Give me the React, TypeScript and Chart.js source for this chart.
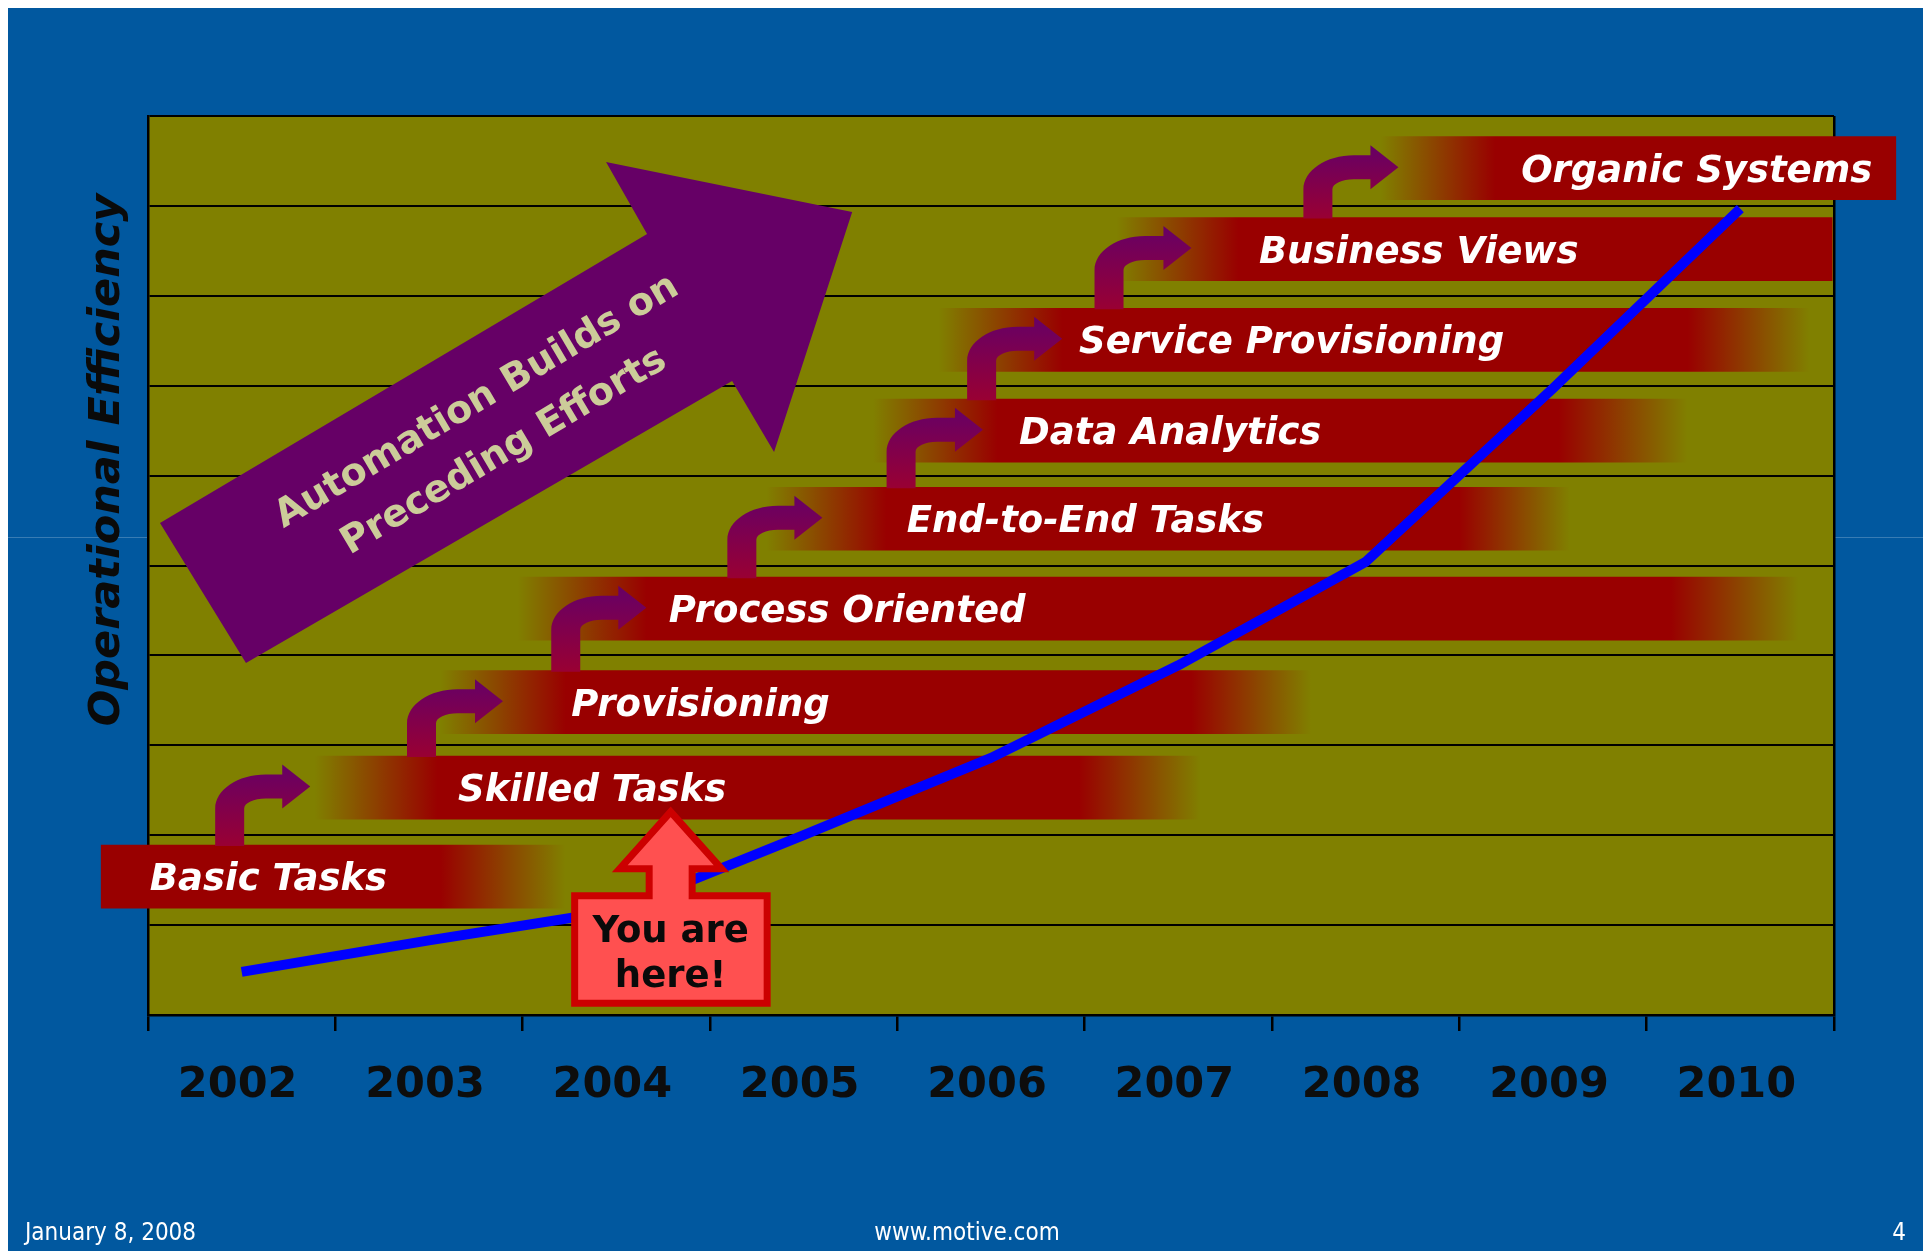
import React, { useEffect, useRef } from "react";
import { Chart, registerables } from "chart.js";

Chart.register(...registerables);

// ---------------- data ----------------
const years = ["2002", "2003", "2004", "2005", "2006", "2007", "2008", "2009", "2010"];
const efficiency = [0.48, 0.83, 1.16, 2.0, 2.86, 3.89, 5.04, 6.97, 8.97];

const stageNames = [
  "Basic Tasks",
  "Skilled Tasks",
  "Provisioning",
  "Process Oriented",
  "End-to-End Tasks",
  "Data Analytics",
  "Service Provisioning",
  "Business Views",
  "Organic Systems",
];
const stageLevel = [1.54, 2.53, 3.48, 4.52, 5.52, 6.5, 7.51, 8.52, 9.42];
const stageFadeIn = [-0.25, 0.89, 1.56, 1.97, 3.3, 3.87, 4.22, 5.17, 6.58];
const stageSolidFrom = [-0.25, 1.545, 2.23, 2.66, 3.94, 4.535, 4.88, 5.82, 7.19];
const stageSolidTo = [1.56, 4.97, 5.57, 8.13, 7.0, 7.53, 8.22, 8.99, 9.33];
const stageFadeOut = [2.23, 5.62, 6.21, 8.81, 7.59, 8.22, 8.87, 8.99, 9.33];
const stageLabelAt = [0.01, 1.655, 2.26, 2.78, 4.05, 4.65, 4.97, 5.93, 7.33];

const stepArrowStem = [0.436, 1.46, 2.23, 3.17, 4.02, 4.45, 5.13, 6.245];
const stepArrowTip = [0.866, 1.895, 2.66, 3.6, 4.457, 4.88, 5.57, 6.675];

const bigArrowX = [0.064, 2.664, 2.445, 3.759, 3.342, 3.118, 0.523];
const bigArrowY = [5.473, 8.687, 9.488, 8.932, 6.263, 7.052, 3.915];
const bigArrowText = ["Automation Builds on", "Preceding Efforts"];
const bigArrowTextX = [1.757, 1.901];
const bigArrowTextY = [6.819, 6.262];

const calloutX = 2.79;
const calloutTipY = 2.26;
const calloutText = ["You are", "here!"];

const yTitle = "Operational Efficiency";
const footerLeft = "January 8, 2008";
const footerCenter = "www.motive.com";
const footerRight = "4";

// ---------------- styles ----------------
const BG = "#01589F";
const OLIVE = "#808000";
const BAR_RED = "#990000";
const BAR_CLEAR = "rgba(153,0,0,0)";
const PURPLE = "#660066";
const BAR_THICK = 63;

function stageFill(c: any) {
  const chart = c.chart;
  const xs = chart.scales && chart.scales.xv;
  const i = c.dataIndex;
  if (!xs || i === undefined || !chart.chartArea) return BAR_RED;
  const x0 = xs.getPixelForValue(stageFadeIn[i]);
  const x1 = xs.getPixelForValue(stageFadeOut[i]);
  const s0 = xs.getPixelForValue(stageSolidFrom[i]);
  const s1 = xs.getPixelForValue(stageSolidTo[i]);
  const w = x1 - x0;
  if (!(w > 0)) return BAR_RED;
  const g = chart.ctx.createLinearGradient(x0, 0, x1, 0);
  g.addColorStop(0, s0 - x0 > 0.5 ? BAR_CLEAR : BAR_RED);
  g.addColorStop(Math.min(1, Math.max(0, (s0 - x0) / w)), BAR_RED);
  g.addColorStop(Math.min(1, Math.max(0, (s1 - x0) / w)), BAR_RED);
  g.addColorStop(1, x1 - s1 > 0.5 ? BAR_CLEAR : BAR_RED);
  return g;
}

function drawBentArrow(ctx: CanvasRenderingContext2D, sx: number, by: number, hy: number, tipX: number) {
  const hw = 14.5; // half stem width
  const ht = 12; // half shaft thickness
  const hh = 22; // half head height
  const k = 0.55;
  const headBase = tipX - 28;
  const cx = sx + 36;
  const cy = hy + 22;
  const orx = cx - (sx - hw);
  const ory = cy - (hy - ht);
  const irx = cx - (sx + hw);
  const iry = cy - (hy + ht);

  const g = ctx.createLinearGradient(0, hy - hh, 0, by);
  g.addColorStop(0, "#660066");
  g.addColorStop(1, "#990033");

  ctx.save();
  ctx.beginPath();
  ctx.moveTo(sx - hw, by);
  ctx.lineTo(sx - hw, cy);
  ctx.bezierCurveTo(cx - orx, cy - k * ory, cx - k * orx, cy - ory, cx, cy - ory);
  ctx.lineTo(headBase, hy - ht);
  ctx.lineTo(headBase, hy - hh);
  ctx.lineTo(tipX, hy);
  ctx.lineTo(headBase, hy + hh);
  ctx.lineTo(headBase, hy + ht);
  ctx.lineTo(cx, cy - iry);
  ctx.bezierCurveTo(cx - k * irx, cy - iry, cx - irx, cy - k * iry, cx - irx, cy);
  ctx.lineTo(sx + hw, by);
  ctx.closePath();
  ctx.fillStyle = g;
  ctx.fill();
  ctx.restore();
}

const decoPlugin = {
  id: "deco",
  beforeDraw(chart: any) {
    const { ctx, width, height, chartArea: a } = chart;
    ctx.save();
    ctx.fillStyle = BG;
    ctx.fillRect(0, 0, width, height);
    ctx.fillStyle = OLIVE;
    ctx.fillRect(a.left, a.top, a.right - a.left, a.bottom - a.top);

    // faint divider line in margins
    ctx.strokeStyle = "rgba(255,255,255,0.22)";
    ctx.lineWidth = 1;
    ctx.beginPath();
    ctx.moveTo(0, 531.5);
    ctx.lineTo(a.left, 531.5);
    ctx.moveTo(a.right, 531.5);
    ctx.lineTo(width, 531.5);
    ctx.stroke();

    // y axis title
    ctx.save();
    ctx.translate(111.5, 454);
    ctx.rotate(-Math.PI / 2);
    ctx.fillStyle = "#0a0a0a";
    ctx.font = "italic bold 43px 'DejaVu Sans', sans-serif";
    ctx.textAlign = "center";
    ctx.textBaseline = "alphabetic";
    ctx.fillText(yTitle, 0, 0);
    ctx.restore();

    // footer
    ctx.fillStyle = "#ffffff";
    ctx.font = "24px 'DejaVu Sans Condensed', 'Liberation Sans Narrow', 'DejaVu Sans', sans-serif";
    ctx.textBaseline = "alphabetic";
    ctx.textAlign = "left";
    ctx.fillText(footerLeft, 18, 1234);
    ctx.textAlign = "center";
    ctx.fillText(footerCenter, 960, 1234);
    ctx.fillText(footerRight, 1892, 1234);
    ctx.restore();
  },
  afterDatasetsDraw(chart: any) {
    const { ctx } = chart;
    const xs = chart.scales.xv;
    const ys = chart.scales.y;
    const px = (v: number) => xs.getPixelForValue(v);
    const py = (v: number) => ys.getPixelForValue(v);

    // big arrow
    ctx.save();
    ctx.beginPath();
    bigArrowX.forEach((v, i) => {
      const X = px(v);
      const Y = py(bigArrowY[i]);
      if (i === 0) ctx.moveTo(X, Y);
      else ctx.lineTo(X, Y);
    });
    ctx.closePath();
    ctx.fillStyle = PURPLE;
    ctx.fill();
    const ang = Math.atan2(py(bigArrowY[1]) - py(bigArrowY[0]), px(bigArrowX[1]) - px(bigArrowX[0]));
    ctx.fillStyle = "#CCCC99";
    ctx.font = "bold 38px 'DejaVu Sans', sans-serif";
    ctx.textAlign = "center";
    ctx.textBaseline = "middle";
    bigArrowText.forEach((t, i) => {
      ctx.save();
      ctx.translate(px(bigArrowTextX[i]), py(bigArrowTextY[i]));
      ctx.rotate(ang);
      ctx.fillText(t, 0, 0);
      ctx.restore();
    });
    ctx.restore();

    // step arrows
    stepArrowStem.forEach((s, i) => {
      const sx = px(s);
      const tip = px(stepArrowTip[i]);
      const by = py(stageLevel[i]) - BAR_THICK / 2 + 1;
      const hy = py(stageLevel[i + 1]) - 1;
      drawBentArrow(ctx, sx, by, hy, tip);
    });

    // stage labels
    ctx.save();
    ctx.fillStyle = "#ffffff";
    ctx.font = "italic bold 37px 'DejaVu Sans', sans-serif";
    ctx.textAlign = "left";
    ctx.textBaseline = "alphabetic";
    stageNames.forEach((n, i) => {
      ctx.fillText(n, px(stageLabelAt[i]), py(stageLevel[i]) + 13.5);
    });
    ctx.restore();

    // "You are here!" callout
    const tx = px(calloutX);
    const ty = py(calloutTipY);
    ctx.save();
    ctx.beginPath();
    ctx.moveTo(tx - 96, ty + 191.5);
    ctx.lineTo(tx - 96, ty + 84);
    ctx.lineTo(tx - 21.5, ty + 84);
    ctx.lineTo(tx - 21.5, ty + 57);
    ctx.lineTo(tx - 51, ty + 57);
    ctx.lineTo(tx, ty);
    ctx.lineTo(tx + 51, ty + 57);
    ctx.lineTo(tx + 21.5, ty + 57);
    ctx.lineTo(tx + 21.5, ty + 84);
    ctx.lineTo(tx + 96.5, ty + 84);
    ctx.lineTo(tx + 96.5, ty + 191.5);
    ctx.closePath();
    ctx.fillStyle = "#FF5050";
    ctx.fill();
    ctx.lineWidth = 7;
    ctx.lineJoin = "miter";
    ctx.strokeStyle = "#CC0000";
    ctx.stroke();
    ctx.fillStyle = "#0a0a0a";
    ctx.font = "bold 37px 'DejaVu Sans', sans-serif";
    ctx.textAlign = "center";
    ctx.textBaseline = "alphabetic";
    ctx.fillText(calloutText[0], tx, ty + 130);
    ctx.fillText(calloutText[1], tx, ty + 175);
    ctx.restore();
  },
};

export default function App() {
  const ref = useRef<HTMLCanvasElement>(null);

  useEffect(() => {
    document.body.style.overflow = "hidden";
    document.documentElement.style.overflow = "hidden";
    const canvas = ref.current;
    if (!canvas) return;

    const chart = new Chart(canvas, {
      type: "bar",
      data: {
        labels: years,
        datasets: [
          {
            type: "line",
            label: "Operational Efficiency",
            data: efficiency,
            xAxisID: "x",
            yAxisID: "y",
            borderColor: "#0000FF",
            borderWidth: 10,
            borderCapStyle: "butt",
            borderJoinStyle: "round",
            pointRadius: 0,
            tension: 0,
            fill: false,
            order: 1,
          } as any,
          {
            type: "bar",
            label: "Automation stages",
            indexAxis: "y",
            xAxisID: "xv",
            yAxisID: "y",
            data: stageNames.map((_, i) => ({ x: [stageFadeIn[i], stageFadeOut[i]], y: stageLevel[i] })),
            backgroundColor: (c: any) => stageFill(c),
            borderWidth: 0,
            barThickness: BAR_THICK,
            grouped: false,
            clip: false,
            order: 2,
          } as any,
        ],
      },
      options: {
        responsive: false,
        maintainAspectRatio: false,
        animation: false,
        devicePixelRatio: 1,
        events: [],
        layout: { padding: { top: 110, right: 93, left: 0, bottom: 0 } },
        plugins: {
          legend: { display: false },
          tooltip: { enabled: false },
          title: { display: false },
        },
        scales: {
          x: {
            type: "category",
            position: "bottom",
            offset: true,
            grid: {
              offset: true,
              drawOnChartArea: true,
              color: (c: any) => (c.tick ? "rgba(0,0,0,0)" : "#000000"),
              lineWidth: 2.5,
              tickColor: "#000000",
              tickLength: 16,
              tickWidth: 2.5,
            },
            border: { display: true, color: "#000000", width: 2.5 },
            ticks: {
              color: "#0d0d0d",
              font: { family: "'DejaVu Sans', sans-serif", size: 43, weight: "bold" },
              padding: 29,
              labelOffset: -4,
              maxRotation: 0,
              autoSkip: false,
            },
            afterFit: (s: any) => {
              s.height = 236;
            },
          },
          xv: {
            type: "linear",
            axis: "x",
            position: "bottom",
            display: false,
            min: 0,
            max: 9,
            offset: false,
          },
          y: {
            type: "linear",
            position: "left",
            min: 0,
            max: 10,
            offset: false,
            grid: { offset: false, color: "#000000", lineWidth: 2, drawTicks: false },
            border: { display: true, color: "#000000", width: 2.5 },
            ticks: { display: false, stepSize: 1 },
            afterFit: (s: any) => {
              s.width = 141;
            },
          },
        } as any,
      },
      plugins: [decoPlugin],
    } as any);

    return () => chart.destroy();
  }, []);

  return (
    <canvas
      ref={ref}
      width={1920}
      height={1245}
      style={{ display: "block", width: 1920, height: 1245, marginTop: -2, marginLeft: -1 }}
    />
  );
}
